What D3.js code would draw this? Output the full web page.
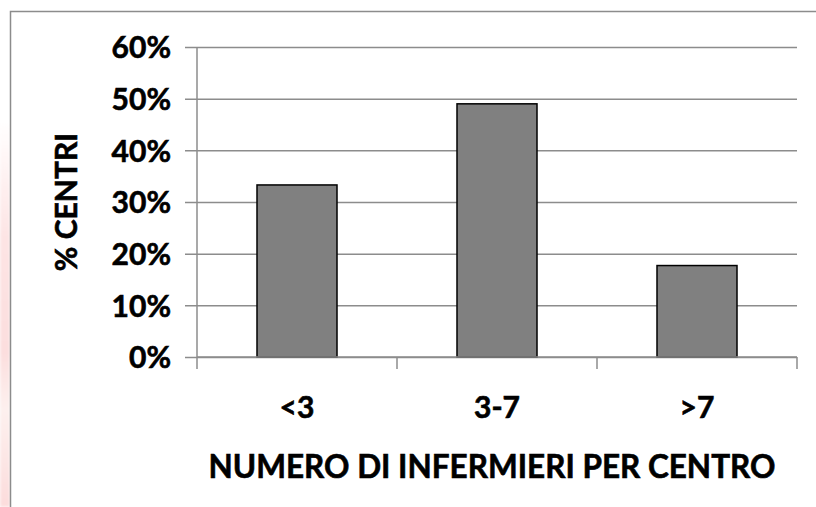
<!DOCTYPE html>
<html>
<head>
<meta charset="utf-8">
<script src="https://cdn.jsdelivr.net/npm/d3@7"></script>
<style>
  html, body { margin: 0; padding: 0; background: #fff; }
  svg { display: block; }
  text { font-family: Lato, "Open Sans", sans-serif; font-weight: 700; fill: #000; stroke: #000; stroke-width: 0.6px; }
</style>
</head>
<body>
<svg id="chart" width="816" height="507"></svg>
<script>
// Share of centres by number of nurses per centre
const categories = ["<3", "3-7", ">7"];
const shares = [0.333, 0.49, 0.177];
const yTicks = [0, 0.1, 0.2, 0.3, 0.4, 0.5, 0.6];
const xTitle = "NUMERO DI INFERMIERI PER CENTRO";
const yTitle = "% CENTRI";

const W = 816, H = 507;
const plot = { left: 197, right: 797, top: 47, bottom: 357 };

const svg = d3.select("#chart");

// soft pink glow along the left edge, outside the frame
const defs = svg.append("defs");
const grad = defs.append("linearGradient")
  .attr("id", "edgeGlow").attr("x1", 0).attr("y1", 0).attr("x2", 0).attr("y2", 1);
grad.append("stop").attr("offset", "0%").attr("stop-color", "#fff");
grad.append("stop").attr("offset", "30%").attr("stop-color", "#fde4e4");
grad.append("stop").attr("offset", "60%").attr("stop-color", "#fcdede");
grad.append("stop").attr("offset", "75%").attr("stop-color", "#fdf0ee");
grad.append("stop").attr("offset", "100%").attr("stop-color", "#fcdcdc");
defs.append("filter").attr("id", "soft")
  .append("feGaussianBlur").attr("stdDeviation", 1.5);
svg.append("rect")
  .attr("x", 0).attr("y", 120).attr("width", 10).attr("height", H - 120)
  .attr("fill", "url(#edgeGlow)").attr("filter", "url(#soft)");

// chart frame
svg.append("rect")
  .attr("x", 10.5).attr("y", 11.5).attr("width", W + 10).attr("height", H + 10)
  .attr("fill", "#fff").attr("stroke", "#8c8c8c").attr("stroke-width", 1.5);

const x = d3.scaleBand()
  .domain(categories)
  .range([plot.left, plot.right])
  .paddingInner(0.6).paddingOuter(0.3);

const y = d3.scaleLinear()
  .domain([0, 0.6])
  .range([plot.bottom, plot.top]);

// horizontal gridlines with their left tick stubs
const yAxis = d3.axisLeft(y)
  .tickValues(yTicks)
  .tickFormat(d3.format(".0%"))
  .tickSize(-(plot.right - plot.left))
  .tickPadding(26);

const gy = svg.append("g")
  .attr("transform", `translate(${plot.left},0)`)
  .call(yAxis);
gy.select(".domain").remove();
gy.selectAll(".tick line")
  .attr("x1", -12)
  .attr("stroke", "#8c8c8c").attr("stroke-width", 1.5);
gy.selectAll(".tick text")
  .attr("font-size", 30).attr("dy", "0.36em")
  .style("font-family", "Lato, sans-serif").style("font-weight", 700)
  .attr("fill", "#000").attr("stroke", "#000").attr("stroke-width", 0.6);

// vertical value axis line
svg.append("line")
  .attr("x1", plot.left).attr("x2", plot.left)
  .attr("y1", plot.top).attr("y2", plot.bottom)
  .attr("stroke", "#8c8c8c").attr("stroke-width", 1.5);

// bars
svg.append("g").selectAll("rect")
  .data(categories)
  .join("rect")
  .attr("x", d => x(d))
  .attr("width", x.bandwidth())
  .attr("y", (d, i) => y(shares[i]))
  .attr("height", (d, i) => y(0) - y(shares[i]))
  .attr("fill", "#808080")
  .attr("stroke", "#000").attr("stroke-width", 1.5);

// category axis: ticks sit on band boundaries
const boundaryX = d3.range(categories.length + 1)
  .map(i => plot.left + i * x.step() * (plot.right - plot.left) / (x.step() * categories.length));
const gx = svg.append("g");
gx.append("line")
  .attr("x1", plot.left).attr("x2", plot.right)
  .attr("y1", plot.bottom).attr("y2", plot.bottom)
  .attr("stroke", "#8c8c8c").attr("stroke-width", 1.5);
gx.selectAll("line.tk")
  .data(boundaryX)
  .join("line").attr("class", "tk")
  .attr("x1", d => d).attr("x2", d => d)
  .attr("y1", plot.bottom).attr("y2", plot.bottom + 12)
  .attr("stroke", "#8c8c8c").attr("stroke-width", 1.5);
gx.selectAll("text")
  .data(categories)
  .join("text")
  .attr("x", d => x(d) + x.bandwidth() / 2)
  .attr("y", 418)
  .attr("text-anchor", "middle")
  .attr("font-size", 30)
  .text(d => d);

// axis titles
svg.append("text")
  .attr("x", 492).attr("y", 478)
  .attr("text-anchor", "middle")
  .attr("font-size", 31.5)
  .text(xTitle);

svg.append("text")
  .attr("transform", "translate(77,202) rotate(-90)")
  .attr("text-anchor", "middle")
  .attr("font-size", 30)
  .text(yTitle);
</script>
</body>
</html>
